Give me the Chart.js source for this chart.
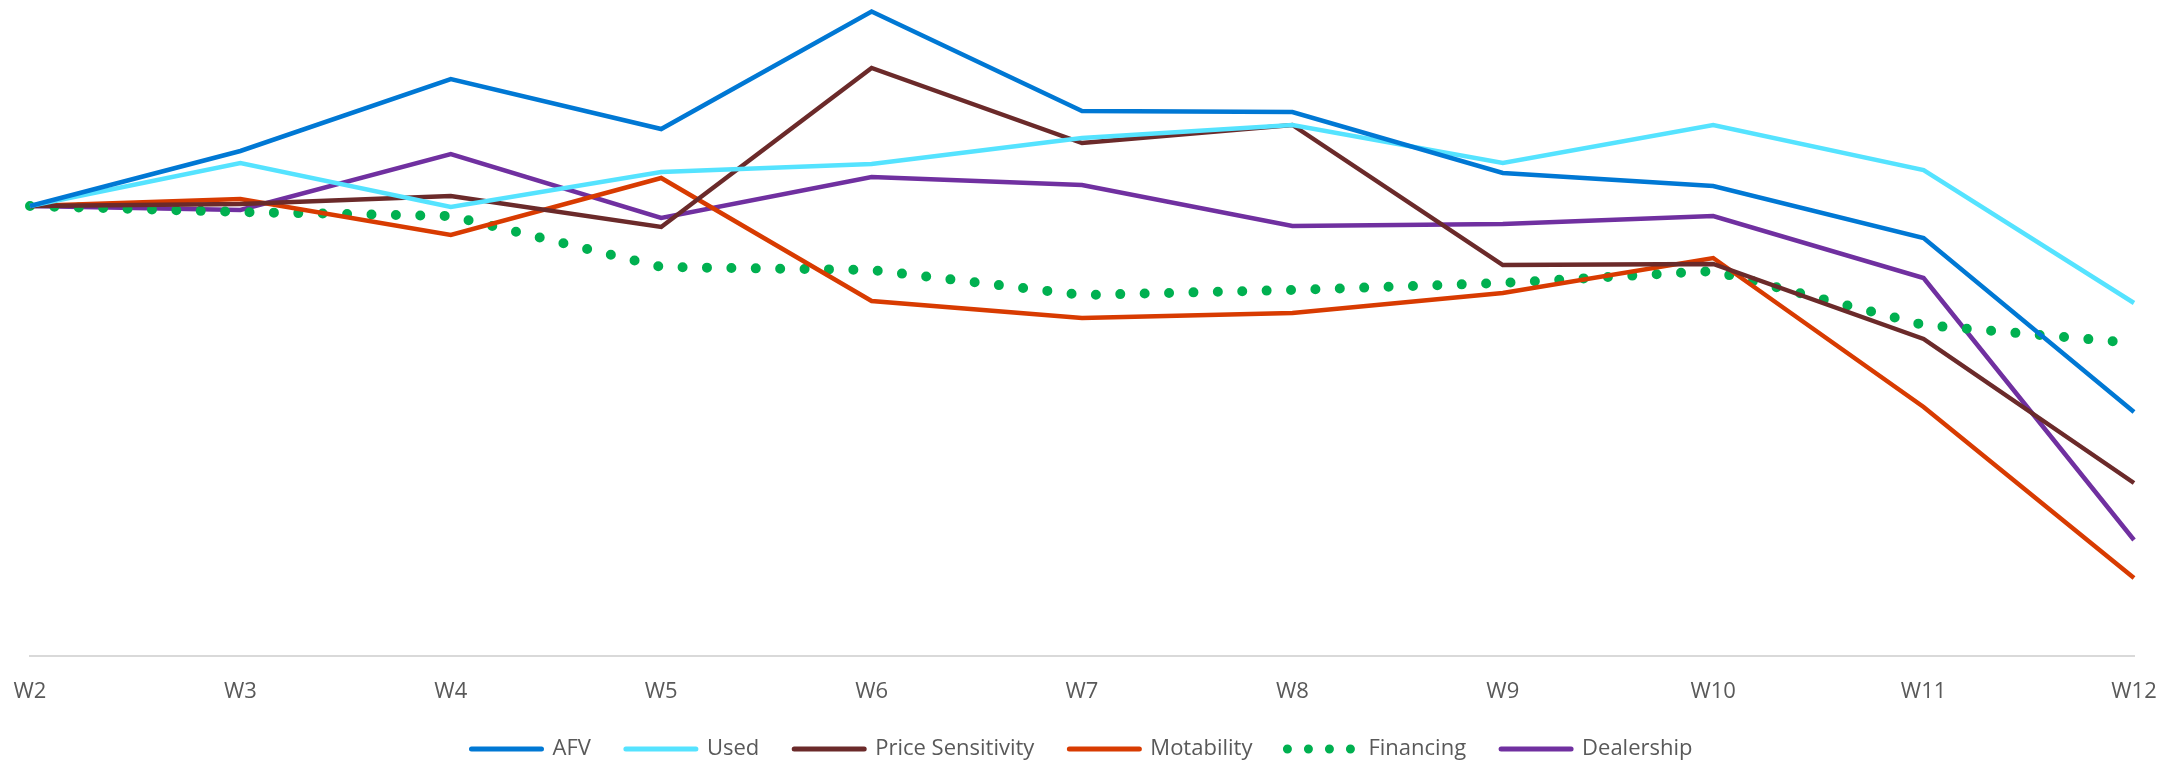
<!DOCTYPE html>
<html>
<head>
<meta charset="utf-8">
<script src="https://cdn.jsdelivr.net/npm/chart.js@4/dist/chart.umd.min.js"></script>
<style>
    body { margin: 0; background: #ffffff; }
    #wrap { width: 2173px; height: 764px; position: relative; }
</style>
</head>
<body>
<div id="wrap"><canvas id="LineChart_weeks"></canvas></div>
<script>
// данные (индекс, W2 = 100)
let labels_weeks = ["W2", "W3", "W4", "W5", "W6", "W7", "W8", "W9", "W10", "W11", "W12"];

let data_AFV = [100, 111, 125.4, 115.4, 138.9, 119, 118.8, 106.6, 104, 93.6, 58.8];
let data_Used = [100, 108.6, 99.8, 106.8, 108.4, 113.6, 116.2, 108.6, 116.2, 107.2, 80.6];
let data_PriceSensitivity = [100, 100.4, 102, 95.8, 127.6, 112.6, 116.2, 88.2, 88.4, 73.4, 44.6];
let data_Motability = [100, 101.4, 94.2, 105.6, 81, 77.6, 78.6, 82.6, 89.6, 59.8, 25.6];
let data_Financing = [100, 98.8, 98, 87.8, 87.2, 82.2, 83.2, 84.6, 87, 76.2, 72.6];
let data_Dealership = [100, 99.2, 110.4, 97.6, 105.8, 104.2, 96, 96.4, 98, 85.6, 33.2];

let y_min = 10;
let y_max = 141.2;

function makeLine(label, color, data, dotted) {
    let ds = {
        label: label,
        data: data,
        borderColor: color,
        backgroundColor: color,
        borderWidth: 4.5,
        pointRadius: 0,
        pointHoverRadius: 0,
        tension: 0,
        fill: false,
        clip: false
    };
    if (dotted) {
        ds.borderWidth = 10;
        ds.borderDash = [0, 24.4];
        ds.borderCapStyle = 'round';
    }
    return ds;
}

function chartWeeks() {
    const ctx = document.getElementById("LineChart_weeks").getContext('2d');
    const textColor = "#595959";
    const fontFamily = "'Open Sans', sans-serif";

    new Chart(ctx, {
        type: 'line',
        data: {
            labels: labels_weeks,
            datasets: [
                makeLine("AFV", "#0078D4", data_AFV, false),
                makeLine("Used", "#55E3FF", data_Used, false),
                makeLine("Price Sensitivity", "#6B2A2A", data_PriceSensitivity, false),
                makeLine("Motability", "#D83B01", data_Motability, false),
                makeLine("Financing", "#00B050", data_Financing, true),
                makeLine("Dealership", "#7030A0", data_Dealership, false)
            ]
        },
        options: {
            responsive: true,
            maintainAspectRatio: false,
            animation: false,
            layout: {
                padding: { left: 30, right: 39, top: 0, bottom: -6 }
            },
            scales: {
                x: {
                    offset: false,
                    // засечки не рисуются, tickLength только сдвигает подписи вниз
                    grid: { display: false, drawTicks: true, tickLength: 25 },
                    border: { display: true, color: "#d9d9d9", width: 2 },
                    ticks: {
                        color: textColor,
                        padding: 0,
                        maxRotation: 0,
                        autoSkip: false,
                        font: { family: fontFamily, size: 22, lineHeight: 1 }
                    }
                },
                y: {
                    display: false,
                    min: y_min,
                    max: y_max
                }
            },
            plugins: {
                tooltip: { enabled: false },
                legend: {
                    position: 'bottom',
                    labels: {
                        usePointStyle: true,
                        pointStyle: 'line',
                        pointStyleWidth: 70,
                        padding: 35,
                        color: textColor,
                        font: { family: fontFamily, size: 22 },
                        generateLabels: function(chart) {
                            let items = Chart.defaults.plugins.legend.labels.generateLabels(chart);
                            items.forEach(function(item) {
                                item.lineWidth = 5;
                                item.lineCap = 'round';
                                if (item.text === "Financing") {
                                    item.lineWidth = 9;
                                    item.lineDash = [0, 21];
                                }
                            });
                            return items;
                        }
                    }
                }
            }
        }
    });
}

chartWeeks();
</script>
</body>
</html>
